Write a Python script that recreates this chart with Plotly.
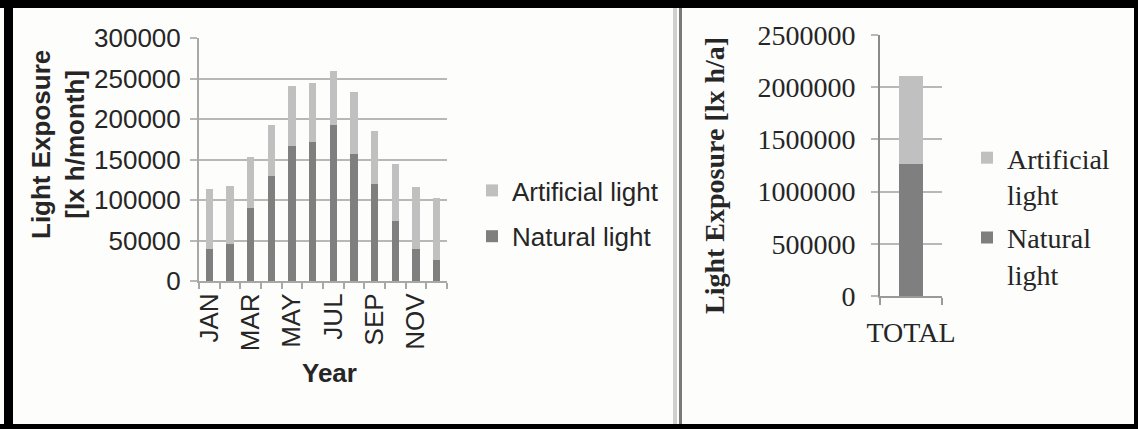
import plotly.graph_objects as go

W, H = 1138, 429

# Monthly light exposure [lx h/month]
months = ["JAN", "FEB", "MAR", "APR", "MAY", "JUN", "JUL", "AUG", "SEP", "OCT", "NOV", "DEC"]
month_labels = ["JAN", "", "MAR", "", "MAY", "", "JUL", "", "SEP", "", "NOV", ""]
natural = [39000, 46000, 90000, 130000, 167000, 171000, 192000, 157000, 120000, 74000, 40000, 26000]
artificial = [74000, 71000, 63000, 63000, 74000, 73000, 67000, 76000, 65000, 70000, 76000, 77000]

# Annual totals [lx h/a]
total_cat = ["TOTAL"]
total_natural = [1260000]
total_artificial = [850000]

DARK = "#7f7f7f"
LIGHT = "#c0c0c0"
GRID = "#b8b8b8"
TEXT = "#262626"
SANS = "Liberation Sans, Arial, sans-serif"
SERIF = "Liberation Serif, Times New Roman, serif"


def px(x):
    return x / W


def py(y):
    return 1 - y / H


fig = go.Figure()

fig.add_trace(go.Bar(x=months, y=natural, name="Natural light", marker_color=DARK,
                     width=0.37, xaxis="x", yaxis="y", legend="legend",
                     legendgroup="n", legendrank=2))
fig.add_trace(go.Bar(x=months, y=artificial, name="Artificial light", marker_color=LIGHT,
                     width=0.37, xaxis="x", yaxis="y", legend="legend",
                     legendgroup="a", legendrank=1))

fig.add_trace(go.Bar(x=total_cat, y=total_natural, name="Natural<br>light", marker_color=DARK,
                     width=0.4, xaxis="x2", yaxis="y2", legend="legend2",
                     legendgroup="n2", legendrank=2))
fig.add_trace(go.Bar(x=total_cat, y=total_artificial, name="Artificial<br>light", marker_color=LIGHT,
                     width=0.4, xaxis="x2", yaxis="y2", legend="legend2",
                     legendgroup="a2", legendrank=1))

axis_common = dict(showline=True, linewidth=2, ticks="outside", tickwidth=2, automargin=False)

fig.update_layout(
    template="none",
    width=W, height=H,
    margin=dict(l=0, r=0, t=0, b=0, autoexpand=False),
    barmode="stack",
    paper_bgcolor="#fdfdfc",
    plot_bgcolor="rgba(0,0,0,0)",
    xaxis=dict(domain=[px(199), px(447)], type="category", tickvals=months, ticktext=month_labels,
               tickangle=-90, tickson="boundaries", ticklen=6, linecolor="#a8a8a8", tickcolor="#a8a8a8",
               showgrid=False, tickfont=dict(family=SANS, size=26, color=TEXT), anchor="y", **axis_common),
    yaxis=dict(domain=[py(281), py(38)], range=[0, 300000], dtick=50000, tickformat="d",
               showgrid=True, gridcolor=GRID, gridwidth=2, ticklen=7, linecolor="#a8a8a8",
               tickcolor=GRID, zeroline=False, ticklabelstandoff=4,
               tickfont=dict(family=SANS, size=26, color=TEXT), anchor="x", **axis_common),
    xaxis2=dict(domain=[px(880), px(942)], type="category", tickson="boundaries", ticklen=7,
                tickangle=0, linecolor="#9a9a9a", tickcolor="#9a9a9a", showgrid=False,
                ticklabelstandoff=10,
                tickfont=dict(family=SERIF, size=28, color=TEXT), anchor="y2", **axis_common),
    yaxis2=dict(domain=[py(296), py(35)], range=[0, 2500000], dtick=500000, tickformat="d",
                showgrid=True, gridcolor=GRID, gridwidth=2, ticklen=7, linecolor="#8a8a8a",
                tickcolor=GRID, zeroline=False, ticklabelstandoff=10,
                tickfont=dict(family=SERIF, size=28, color=TEXT), anchor="x2", **axis_common),
    legend=dict(x=px(472), y=py(167), xanchor="left", yanchor="top", traceorder="grouped",
                tracegroupgap=9, bgcolor="rgba(0,0,0,0)",
                font=dict(family=SANS, size=26, color=TEXT)),
    legend2=dict(x=px(967), y=py(133), xanchor="left", yanchor="top", traceorder="grouped",
                 tracegroupgap=4, valign="top", bgcolor="rgba(0,0,0,0)",
                 font=dict(family=SERIF, size=28, color=TEXT)),
    showlegend=True,
)

# Axis titles
fig.add_annotation(x=px(58), y=py(145), xref="paper", yref="paper", textangle=-90,
                   xanchor="center", yanchor="middle",
                   text="<b>Light Exposure<br>[lx h/month]</b>", showarrow=False,
                   font=dict(family=SANS, size=26, color=TEXT))
fig.add_annotation(x=px(329), y=py(373), xref="paper", yref="paper",
                   xanchor="center", yanchor="middle",
                   text="<b>Year</b>", showarrow=False,
                   font=dict(family=SANS, size=26, color=TEXT))
fig.add_annotation(x=px(714), y=py(176), xref="paper", yref="paper", textangle=-90,
                   xanchor="center", yanchor="middle",
                   text="<b>Light Exposure [lx h/a]</b>", showarrow=False,
                   font=dict(family=SERIF, size=28, color=TEXT))

# Frame around both panels and the divider between them
frame = [
    (4, 0, 13, 429, "#000000"),
    (0, 0, 1138, 8, "#000000"),
    (1134, 0, 1138, 429, "#000000"),
    (0, 424, 1138, 429, "#000000"),
    (673, 8, 677, 424, "#cfcfcf"),
    (679, 8, 682, 424, "#7a7a7a"),
]
for x0, y0, x1, y1, c in frame:
    fig.add_shape(type="rect", xref="paper", yref="paper", x0=px(x0), x1=px(x1), y0=py(y1), y1=py(y0),
                  fillcolor=c, line_width=0, layer="above")

fig.write_html("out.html")
